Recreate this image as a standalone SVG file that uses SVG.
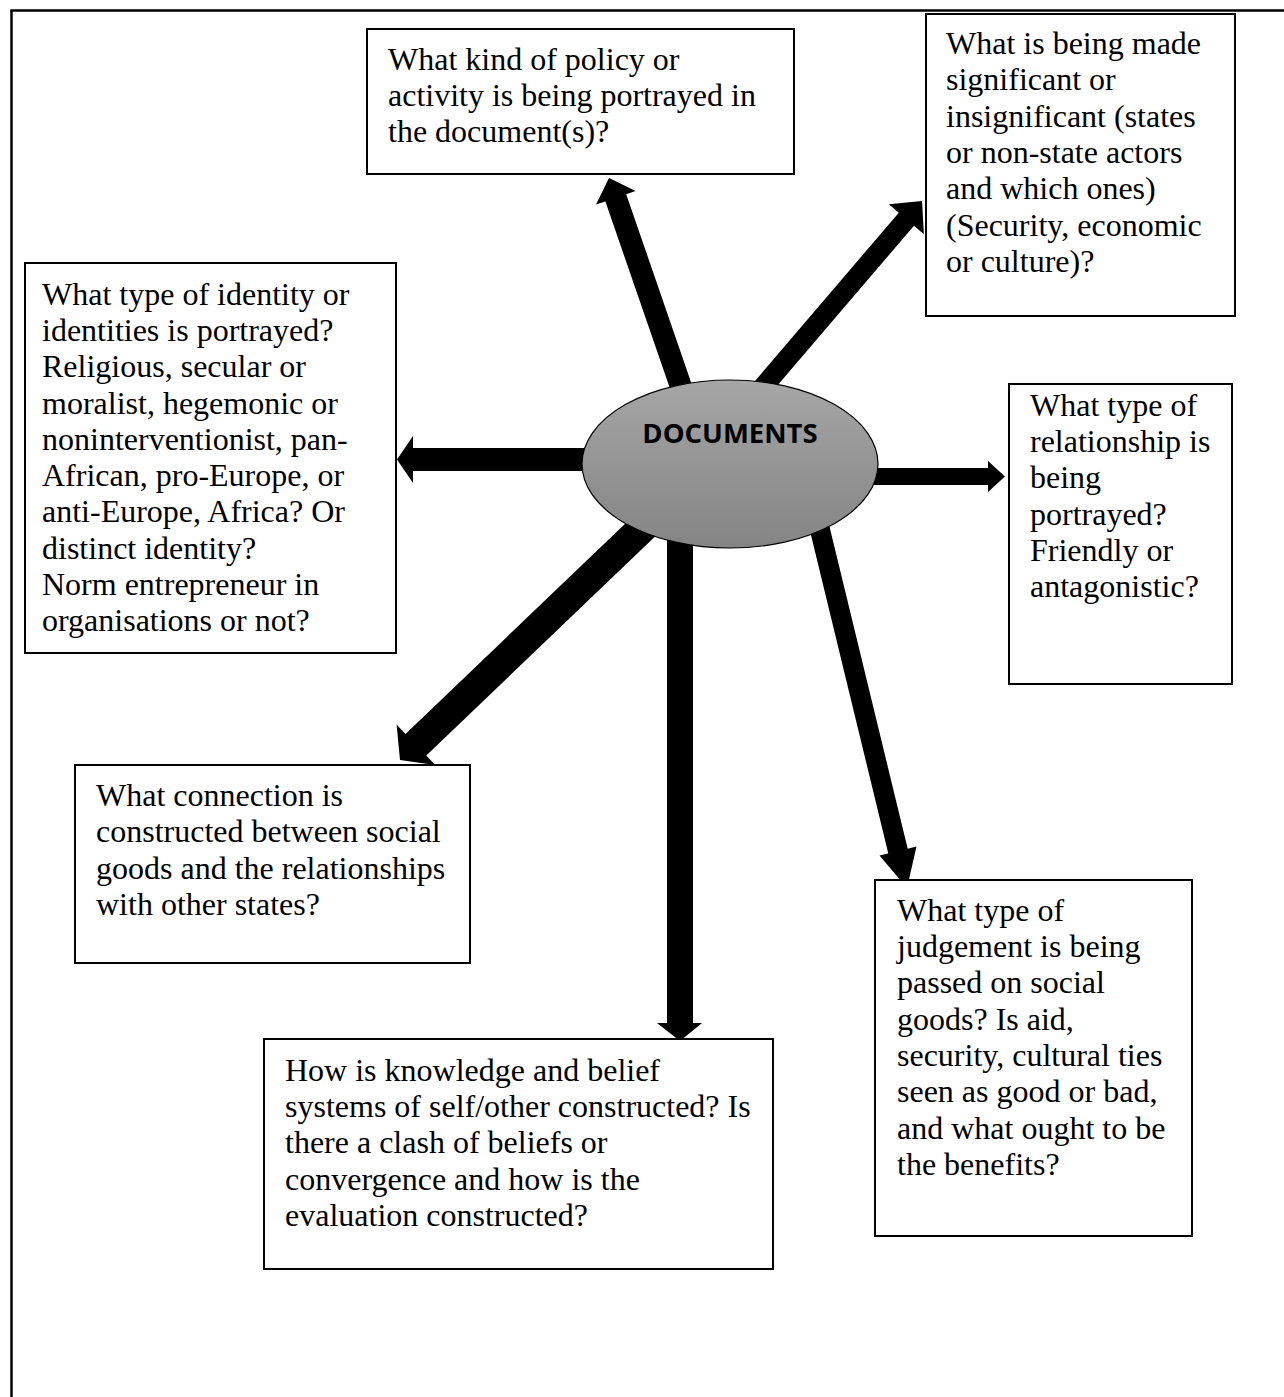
<svg xmlns="http://www.w3.org/2000/svg" width="1284" height="1397" viewBox="0 0 1284 1397">
<defs>
<linearGradient id="g" x1="0" y1="0" x2="0" y2="1">
<stop offset="0" stop-color="#a6a6a6"/>
<stop offset="1" stop-color="#848484"/>
</linearGradient>
<style>
.box{fill:#fff;stroke:#000;stroke-width:2}
.t{font-family:"Liberation Serif","Times New Roman",serif;font-size:32px;fill:#000}
.arr{fill:#000}
.frame{stroke:#000;stroke-width:2.5;fill:none}
</style>
</defs>
<rect width="1284" height="1397" fill="#fff"/>
<path class="frame" d="M11.5,1397 V10.5 H1284"/>
<g id="connectors">
<polygon class="arr" points="699.4,406.4 626.2,194.2 635.6,191 609,178 596,204.6 605.4,201.4 678.6,413.6"/>
<polygon class="arr" points="759.1,406.9 914,225.7 923.9,234.2 922,201 888.9,204.3 898.8,212.7 743.9,393.9"/>
<polygon class="arr" points="600,448 413,448 413,436 397,459.5 413,483 413,471 600,471"/>
<polygon class="arr" points="860,468 988,468 988,461 1005,476.5 988,492 988,485 860,485"/>
<polygon class="arr" points="639,510.4 405.5,734 396.6,724.6 400,760 435.2,765 426.3,755.6 659.8,532"/>
<polygon class="arr" points="667,530 667,1023 657,1023 680,1041 702,1023 693,1023 693,530"/>
<polygon class="arr" points="806.8,517.8 888.3,853.5 879.5,855.6 907,888 916.5,846.6 907.7,848.7 826.2,513"/>
</g>
<g id="center">
<ellipse cx="730" cy="464" rx="148" ry="84" fill="url(#g)" stroke="#000" stroke-width="1.2"/>
<text x="730" y="443" text-anchor="middle" font-family="'Open Sans','Liberation Sans',sans-serif" font-weight="bold" font-size="27.5">DOCUMENTS</text>
</g>
<g id="box-policy">
<rect class="box" x="367" y="29" width="427" height="145"/>
<text class="t" x="388" y="70">What kind of policy or</text>
<text class="t" x="388" y="106">activity is being portrayed in</text>
<text class="t" x="388" y="142">the document(s)?</text>
</g>
<g id="box-significant">
<rect class="box" x="926" y="14" width="309" height="302"/>
<text class="t" x="946" y="54">What is being made</text>
<text class="t" x="946" y="90">significant or</text>
<text class="t" x="946" y="127">insignificant (states</text>
<text class="t" x="946" y="163">or non-state actors</text>
<text class="t" x="946" y="199">and which ones)</text>
<text class="t" x="946" y="236">(Security, economic</text>
<text class="t" x="946" y="272">or culture)?</text>
</g>
<g id="box-identity">
<rect class="box" x="25" y="263" width="371" height="390"/>
<text class="t" x="42" y="305">What type of identity or</text>
<text class="t" x="42" y="341">identities is portrayed?</text>
<text class="t" x="42" y="377">Religious, secular or</text>
<text class="t" x="42" y="414">moralist, hegemonic or</text>
<text class="t" x="42" y="450">noninterventionist, pan-</text>
<text class="t" x="42" y="486">African, pro-Europe, or</text>
<text class="t" x="42" y="522">anti-Europe, Africa? Or</text>
<text class="t" x="42" y="559">distinct identity?</text>
<text class="t" x="42" y="595">Norm entrepreneur in</text>
<text class="t" x="42" y="631">organisations or not?</text>
</g>
<g id="box-relationship">
<rect class="box" x="1009" y="384" width="223" height="300"/>
<text class="t" x="1030" y="416">What type of</text>
<text class="t" x="1030" y="452">relationship is</text>
<text class="t" x="1030" y="488">being</text>
<text class="t" x="1030" y="525">portrayed?</text>
<text class="t" x="1030" y="561">Friendly or</text>
<text class="t" x="1030" y="597">antagonistic?</text>
</g>
<g id="box-connection">
<rect class="box" x="75" y="765" width="395" height="198"/>
<text class="t" x="96" y="806">What connection is</text>
<text class="t" x="96" y="842">constructed between social</text>
<text class="t" x="96" y="879">goods and the relationships</text>
<text class="t" x="96" y="915">with other states?</text>
</g>
<g id="box-judgement">
<rect class="box" x="875" y="880" width="317" height="356"/>
<text class="t" x="897" y="921">What type of</text>
<text class="t" x="897" y="957">judgement is being</text>
<text class="t" x="897" y="993">passed on social</text>
<text class="t" x="897" y="1030">goods? Is aid,</text>
<text class="t" x="897" y="1066">security, cultural ties</text>
<text class="t" x="897" y="1102">seen as good or bad,</text>
<text class="t" x="897" y="1139">and what ought to be</text>
<text class="t" x="897" y="1175">the benefits?</text>
</g>
<g id="box-knowledge">
<rect class="box" x="264" y="1039" width="509" height="230"/>
<text class="t" x="285" y="1081">How is knowledge and belief</text>
<text class="t" x="285" y="1117">systems of self/other constructed? Is</text>
<text class="t" x="285" y="1153">there a clash of beliefs or</text>
<text class="t" x="285" y="1190">convergence and how is the</text>
<text class="t" x="285" y="1226">evaluation constructed?</text>
</g>
</svg>
